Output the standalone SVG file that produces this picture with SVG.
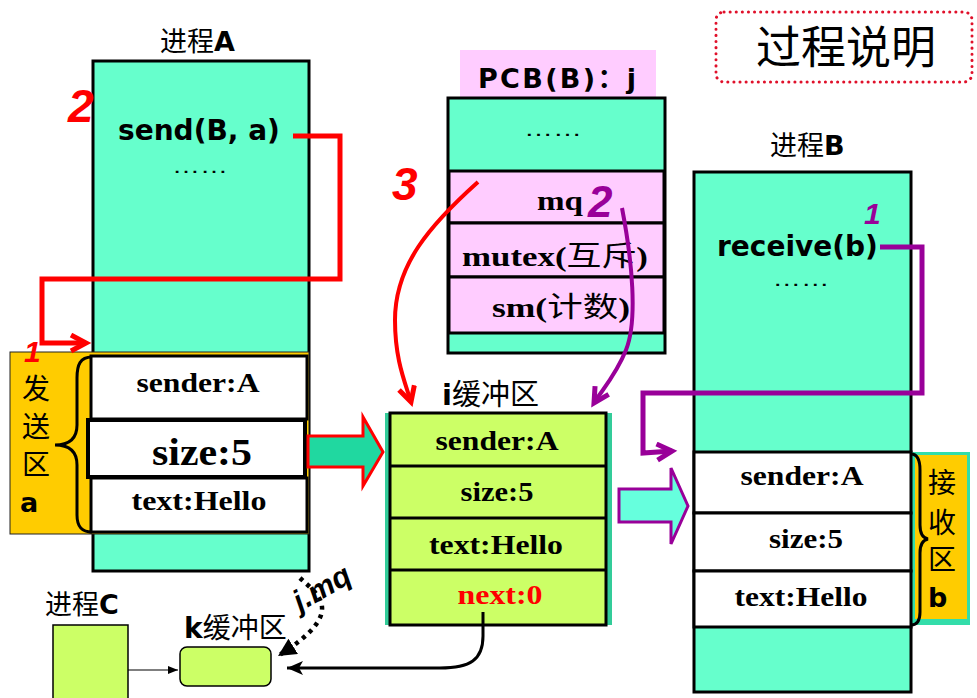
<svg xmlns="http://www.w3.org/2000/svg" width="977" height="698" viewBox="0 0 977 698">
<defs>
<style>
.aq{fill:#66FFCC;stroke:#000;stroke-width:3}
.row{fill:#fff;stroke:#000;stroke-width:3}
.yg{fill:#CCFF66;stroke:#000;stroke-width:3}
.pk{fill:#FFCCFF;stroke:#000;stroke-width:3}
.org{fill:#FFCC00;stroke:#222;stroke-width:1}
.cjk{font-family:"Noto Sans CJK SC","DejaVu Sans",sans-serif;font-size:27px;fill:#000}
.b{font-family:"DejaVu Sans","Liberation Sans",sans-serif;font-weight:bold}
.code{font-family:"DejaVu Sans","Liberation Sans",sans-serif;font-weight:bold;font-size:28px;fill:#000}
.ser{font-family:"Liberation Serif","Noto Sans CJK SC",serif;font-weight:bold;font-size:28px;text-anchor:middle;fill:#000}
.nw{font-weight:normal}
.dots{font-family:"Liberation Sans",sans-serif;font-size:20px;text-anchor:middle;fill:#000}
.hand{font-family:"Liberation Sans",sans-serif;font-weight:bold;font-style:italic}
.brace{fill:none;stroke:#000;stroke-width:3}
</style>
<marker id="vRed" markerUnits="userSpaceOnUse" markerWidth="24" markerHeight="24" refX="17" refY="10" orient="auto">
<path d="M2,2 L17,10 L2,18" fill="none" stroke="#FF0000" stroke-width="5"/>
</marker>
<marker id="vPur" markerUnits="userSpaceOnUse" markerWidth="24" markerHeight="24" refX="17" refY="10" orient="auto">
<path d="M2,2 L17,10 L2,18" fill="none" stroke="#990099" stroke-width="5"/>
</marker>
<marker id="headBlk" markerUnits="userSpaceOnUse" markerWidth="20" markerHeight="16" refX="16" refY="7" orient="auto">
<path d="M0,0 L16,7 L0,14 L4,7 z" fill="#000"/>
</marker>
<marker id="headDot" markerUnits="userSpaceOnUse" markerWidth="22" markerHeight="20" refX="18" refY="9" orient="auto">
<path d="M0,0 L18,9 L0,18 z" fill="#000"/>
</marker>
<marker id="headThin" markerUnits="userSpaceOnUse" markerWidth="12" markerHeight="10" refX="10" refY="4" orient="auto">
<path d="M0,0 L10,4 L0,8 z" fill="#000"/>
</marker>
</defs>
<rect width="977" height="698" fill="#fff"/>

<g id="title-box">
<rect x="716" y="12" width="256" height="70" rx="8" fill="none" stroke="#E0102A" stroke-width="3" stroke-dasharray="0.1 6" stroke-linecap="round"/>
<text x="846" y="64" class="cjk" style="font-size:45px" text-anchor="middle">过程说明</text>
</g>

<g id="process-A">
<text x="160" y="51" class="cjk">进程<tspan class="b">A</tspan></text>
<rect x="93" y="61" width="216" height="510" class="aq"/>
<text x="118" y="140" class="code">send(B, a)</text>
<text x="200" y="173" class="dots" textLength="56" lengthAdjust="spacingAndGlyphs">……</text>
</g>

<g id="send-area-a">
<rect x="10" y="352" width="299" height="182" class="org"/>
<rect x="91" y="356" width="216" height="63" class="row"/>
<rect x="88" y="420" width="217" height="57" class="row" style="stroke-width:4"/>
<rect x="91" y="478" width="216" height="54" class="row"/>
<text x="198" y="392" class="ser" textLength="123" lengthAdjust="spacingAndGlyphs">sender:A</text>
<text x="202" y="465" class="ser" style="font-size:38px" textLength="100" lengthAdjust="spacingAndGlyphs">size:5</text>
<text x="199" y="510" class="ser" textLength="135" lengthAdjust="spacingAndGlyphs">text:Hello</text>
<path class="brace" d="M92 357 C80 357 77 365 77 378 L77 425 C77 438 70 445 55 445 C70 445 77 452 77 465 L77 515 C77 527 82 532 92 532"/>
<text x="22" y="399" class="cjk" style="font-size:28px">发</text>
<text x="22" y="437" class="cjk" style="font-size:28px">送</text>
<text x="22" y="475" class="cjk" style="font-size:28px">区</text>
<text x="20" y="512" class="code" style="font-size:27px">a</text>
</g>

<g id="pcb-B">
<rect x="460" y="50" width="196" height="47" fill="#FFCCFF"/>
<text x="478" y="88" class="code" style="font-size:27px" textLength="158" lengthAdjust="spacing">PCB(B)<tspan font-family="Noto Sans CJK SC">：</tspan>j</text>
<rect x="448" y="98" width="217" height="255" class="aq"/>
<text x="553" y="136" class="dots" textLength="58" lengthAdjust="spacingAndGlyphs">……</text>
<rect x="449" y="171" width="215" height="52" class="pk"/>
<rect x="449" y="223" width="215" height="54" class="pk"/>
<rect x="449" y="277" width="215" height="56" class="pk"/>
<text x="560" y="210" class="ser" textLength="46" lengthAdjust="spacingAndGlyphs">mq</text>
<text x="555" y="266" class="ser" textLength="186" lengthAdjust="spacingAndGlyphs">mutex(<tspan class="nw">互斥</tspan>)</text>
<text x="561" y="317" class="ser" textLength="138" lengthAdjust="spacingAndGlyphs">sm(<tspan class="nw">计数</tspan>)</text>
</g>

<g id="buffer-i">
<text x="442" y="405" class="cjk" style="font-size:29px"><tspan class="b">i</tspan>缓冲区</text>
<rect x="385" y="413" width="227" height="212" fill="#33CC99"/>
<rect x="390" y="413" width="216" height="212" class="yg"/>
<line x1="390" y1="466" x2="606" y2="466" stroke="#000" stroke-width="3"/>
<line x1="390" y1="518" x2="606" y2="518" stroke="#000" stroke-width="3"/>
<line x1="390" y1="570" x2="606" y2="570" stroke="#000" stroke-width="3"/>
<text x="497" y="450" class="ser" textLength="123" lengthAdjust="spacingAndGlyphs">sender:A</text>
<text x="497" y="501" class="ser" textLength="73" lengthAdjust="spacingAndGlyphs">size:5</text>
<text x="496" y="554" class="ser" textLength="134" lengthAdjust="spacingAndGlyphs">text:Hello</text>
<text x="500" y="604" class="ser" style="fill:#FF0000" textLength="85" lengthAdjust="spacingAndGlyphs">next:0</text>
</g>

<g id="process-B">
<text x="770" y="155" class="cjk">进程<tspan class="b">B</tspan></text>
<rect x="694" y="172" width="217" height="520" class="aq"/>
<text x="717" y="256" class="code">receive(b)</text>
<text x="801" y="286" class="dots" textLength="57" lengthAdjust="spacingAndGlyphs">……</text>
</g>

<g id="recv-area-b">
<rect x="911" y="452" width="59" height="173" fill="#33DDAA"/>
<rect x="915" y="455" width="52" height="164" fill="#FFCC00"/>
<rect x="694" y="452" width="217" height="61" class="row"/>
<rect x="694" y="513" width="217" height="58" class="row"/>
<rect x="694" y="571" width="217" height="56" class="row"/>
<text x="802" y="485" class="ser" textLength="123" lengthAdjust="spacingAndGlyphs">sender:A</text>
<text x="806" y="548" class="ser" textLength="74" lengthAdjust="spacingAndGlyphs">size:5</text>
<text x="801" y="606" class="ser" textLength="133" lengthAdjust="spacingAndGlyphs">text:Hello</text>
<path class="brace" d="M911 454 C918 454 920 460 920 470 L920 525 C920 533 923 538 928 539 C923 540 920 545 920 553 L920 612 C920 620 917 625 911 625"/>
<text x="928" y="493" class="cjk" style="font-size:28px">接</text>
<text x="928" y="533" class="cjk" style="font-size:28px">收</text>
<text x="928" y="570" class="cjk" style="font-size:28px">区</text>
<text x="928" y="607" class="code" style="font-size:27px">b</text>
</g>

<g id="process-C">
<text x="45" y="614" class="cjk">进程<tspan class="b">C</tspan></text>
<rect x="53" y="625" width="75" height="80" fill="#CCFF66" stroke="#000" stroke-width="1.5"/>
</g>

<g id="buffer-k">
<text x="184" y="638" class="cjk" style="font-size:28px"><tspan class="b">k</tspan>缓冲区</text>
<rect x="180" y="647" width="91" height="39" rx="7" fill="#CCFF66" stroke="#000" stroke-width="1.5"/>
</g>

<g id="connectors">
<polyline points="293,136 340,136 340,279 42,279 42,343 86,343" fill="none" stroke="#FF0000" stroke-width="5" marker-end="url(#vRed)"/>
<path d="M478 182 C430 225 395 265 395 320 C395 360 405 382 411 402" fill="none" stroke="#FF0000" stroke-width="4" marker-end="url(#vRed)"/>
<path d="M622 208 C632 260 638 320 626 350 C616 375 602 390 594 403" fill="none" stroke="#990099" stroke-width="4" marker-end="url(#vPur)"/>
<polyline points="880,247 922,247 922,393 643,393 643,453 672,451" fill="none" stroke="#990099" stroke-width="5" marker-end="url(#vPur)"/>
<polygon points="308,436 363,436 363,417 383,452 363,486 363,467 308,467" fill="#20D8A0" stroke="#FF0000" stroke-width="3"/>
<polygon points="619,489 671,489 671,468 688,506 671,544 671,522 619,522" fill="#66FFDD" stroke="#990099" stroke-width="3"/>
<path d="M483 612 L483 636 C483 660 470 668 440 668 L287 668" fill="none" stroke="#000" stroke-width="3" marker-end="url(#headBlk)"/>
<path d="M300 578 C318 595 348 612 278 656" fill="none" stroke="#000" stroke-width="4.5" stroke-dasharray="4 5" marker-end="url(#headDot)"/>
<line x1="128" y1="670" x2="178" y2="670" stroke="#000" stroke-width="1.2" marker-end="url(#headThin)"/>
</g>

<g id="annotations">
<text x="68" y="122" class="hand" style="font-size:46px;fill:#FF0000">2</text>
<text x="24" y="362" class="hand" style="font-size:30px;fill:#FF0000">1</text>
<text x="392" y="200" class="hand" style="font-size:46px;fill:#FF0000">3</text>
<text x="588" y="217" class="hand" style="font-size:44px;fill:#990099">2</text>
<text x="864" y="224" class="hand" style="font-size:30px;fill:#990099">1</text>
<text x="300" y="612" class="hand" style="font-size:30px;fill:#000" transform="rotate(-30 300 612)">j.mq</text>
</g>
</svg>
